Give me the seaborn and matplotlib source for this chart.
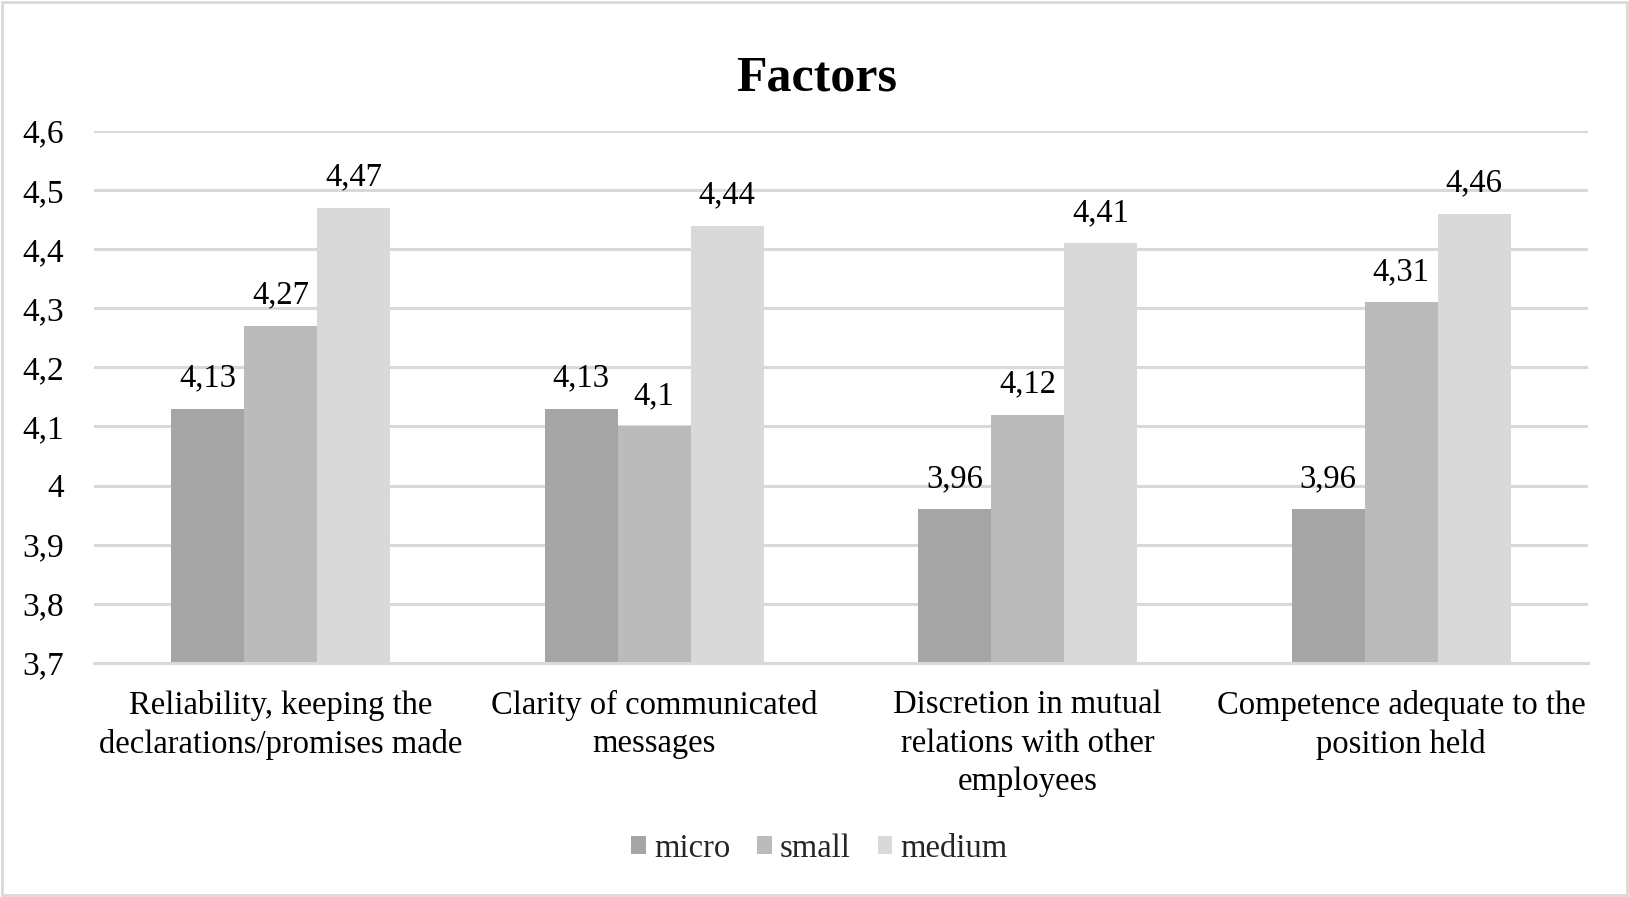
import matplotlib
matplotlib.use("Agg")
import matplotlib.pyplot as plt
import seaborn as sns
import pandas as pd
from matplotlib.ticker import FuncFormatter, MultipleLocator
from matplotlib.patches import Rectangle

categories = [
    "Reliability, keeping the\ndeclarations/promises made",
    "Clarity of communicated\nmessages",
    "Discretion in mutual\nrelations with other\nemployees",
    "Competence adequate to the\nposition held",
]
series = ["micro", "small", "medium"]
micro = [4.13, 4.13, 3.96, 3.96]
small = [4.27, 4.10, 4.12, 4.31]
medium = [4.47, 4.44, 4.41, 4.46]
colors = ["#A5A5A5", "#BBBBBB", "#D9D9D9"]

rows = []
for name, vals in zip(series, [micro, small, medium]):
    for c, v in zip(categories, vals):
        rows.append({"category": c, "series": name, "value": v})
df = pd.DataFrame(rows)

sns.set_theme(style="white")
plt.rcParams["font.family"] = ["Liberation Serif", "DejaVu Serif"]

fig = plt.figure(figsize=(16.29, 8.97), dpi=100)
ax = fig.add_axes([0.0577, 0.261, 0.9171, 0.593])

sns.barplot(data=df, x="category", y="value", hue="series", order=categories,
            hue_order=series, palette=colors, width=0.586, saturation=1,
            linewidth=0, edgecolor="none", ax=ax, legend=True)

ax.set_ylim(3.7, 4.6)
ax.set_xlim(-0.5, 3.5)
ax.yaxis.set_major_locator(MultipleLocator(0.1))
ax.yaxis.set_major_formatter(FuncFormatter(lambda v, p: f"{round(v, 1):g}".replace(".", ",")))
ax.grid(axis="y", color="#D9D9D9", linewidth=2.2)
ax.set_axisbelow(True)
for s in ["left", "right", "top"]:
    ax.spines[s].set_visible(False)
ax.spines["bottom"].set_color("#D9D9D9")
ax.spines["bottom"].set_linewidth(2.2)
ax.tick_params(axis="y", labelsize=24, length=0, pad=21.5, colors="black")
ax.tick_params(axis="x", labelsize=23.5, length=0, pad=19.5, colors="black")
for lab in ax.get_xticklabels():
    lab.set_linespacing(1.33)
ax.set_xlabel("")
ax.set_ylabel("")

for cont in ax.containers:
    ax.bar_label(cont, labels=[f"{v:g}".replace(".", ",") for v in cont.datavalues],
                 padding=11, fontsize=23.5, color="black")

fig.text(0.5015, 0.913, "Factors", fontsize=36, fontweight="bold", color="black",
         ha="center", va="center")

h, l = ax.get_legend_handles_labels()
ax.get_legend().remove()
fig.legend(h, l, loc="center", bbox_to_anchor=(0.503, 0.054), ncol=3, frameon=False,
           fontsize=23.5, handlelength=0.45, handleheight=0.45, handletextpad=0.25,
           columnspacing=0.82)

fig.patches.append(Rectangle((0.001, 0.002), 0.998, 0.996, transform=fig.transFigure,
                             fill=False, edgecolor="#D9D9D9", linewidth=2))

fig.savefig("out.png", dpi=100)
